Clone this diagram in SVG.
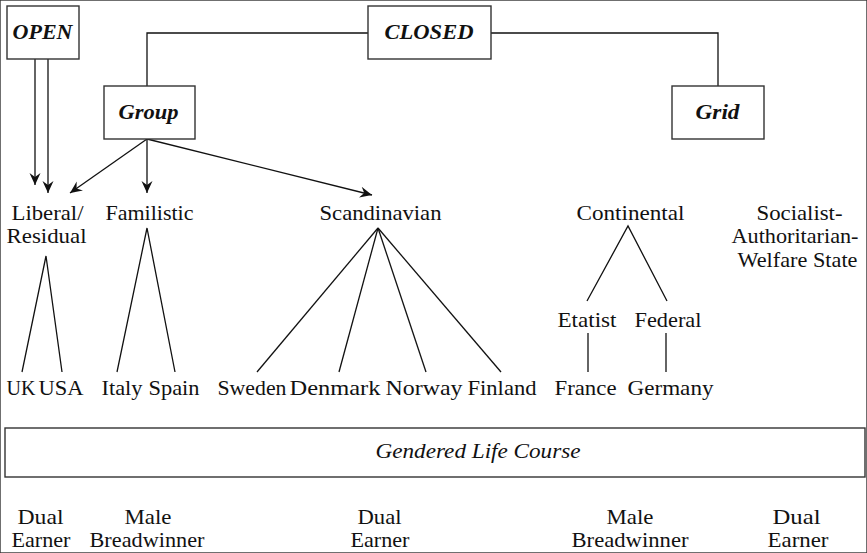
<svg xmlns="http://www.w3.org/2000/svg" width="867" height="553" viewBox="0 0 867 553" font-family="'Liberation Serif', 'DejaVu Serif', serif">
<style>
text{font-family:'Liberation Serif','DejaVu Serif',serif;font-size:22px;fill:#111;text-anchor:middle}
.b{font-style:italic;font-weight:bold}
.i{font-style:italic}
rect{fill:#fff;stroke:#333;stroke-width:1.4}
line,polyline{stroke:#111;stroke-width:1.3;fill:none}
</style>
<defs>
<marker id="ah" markerUnits="userSpaceOnUse" markerWidth="14" markerHeight="12" viewBox="-12 -6 14 12" refX="0" refY="0" orient="auto">
<path d="M0,0 L-12,-5.5 L-8,0 L-12,5.5 Z" fill="#111"/>
</marker>
</defs>
<rect width="867" height="553" fill="#fff" stroke="none"/>
<g id="connectors">
<polyline points="147,86 147,33 368,33"/>
<polyline points="491,33 718,33 718,86"/>
<line x1="35" y1="59" x2="35" y2="185" marker-end="url(#ah)"/>
<line x1="48" y1="59" x2="48" y2="193" marker-end="url(#ah)"/>
<line x1="147" y1="139" x2="70" y2="193" marker-end="url(#ah)"/>
<line x1="147" y1="139" x2="147" y2="193" marker-end="url(#ah)"/>
<line x1="147" y1="139" x2="372" y2="195" marker-end="url(#ah)"/>
<polyline points="22,372 46,256 62,372"/>
<polyline points="117,372 147,228 175,372"/>
<line x1="378" y1="228" x2="257" y2="372"/>
<line x1="378" y1="228" x2="339" y2="372"/>
<line x1="378" y1="228" x2="426" y2="372"/>
<line x1="378" y1="228" x2="501" y2="372"/>
<polyline points="587,301 628,226 667,301"/>
<line x1="588" y1="333" x2="588" y2="372"/>
<line x1="666" y1="333" x2="666" y2="372"/>
</g>
<g id="open"><rect x="7" y="6" width="72" height="53"/><text class="b" x="42.5" y="39" textLength="60" lengthAdjust="spacingAndGlyphs">OPEN</text></g>
<g id="closed"><rect x="368" y="6" width="123" height="53"/><text class="b" x="429" y="39" textLength="89" lengthAdjust="spacingAndGlyphs">CLOSED</text></g>
<g id="group"><rect x="104" y="86" width="91" height="53"/><text class="b" x="148.5" y="119" textLength="60" lengthAdjust="spacingAndGlyphs">Group</text></g>
<g id="grid"><rect x="672" y="86" width="92" height="53"/><text class="b" x="717.5" y="119" textLength="44" lengthAdjust="spacingAndGlyphs">Grid</text></g>
<g id="liberal"><text x="47.5" y="220" textLength="72" lengthAdjust="spacingAndGlyphs">Liberal/</text><text x="46.5" y="243" textLength="80" lengthAdjust="spacingAndGlyphs">Residual</text></g>
<g id="familistic"><text x="149.5" y="220" textLength="88" lengthAdjust="spacingAndGlyphs">Familistic</text></g>
<g id="scandinavian"><text x="380.5" y="220" textLength="122" lengthAdjust="spacingAndGlyphs">Scandinavian</text></g>
<g id="continental"><text x="630.5" y="220" textLength="108" lengthAdjust="spacingAndGlyphs">Continental</text></g>
<g id="socialist"><text x="799.5" y="220" textLength="86" lengthAdjust="spacingAndGlyphs">Socialist-</text><text x="795" y="243" textLength="127" lengthAdjust="spacingAndGlyphs">Authoritarian-</text><text x="797.5" y="267" textLength="120" lengthAdjust="spacingAndGlyphs">Welfare State</text></g>
<g id="etatist"><text x="587" y="327" textLength="59" lengthAdjust="spacingAndGlyphs">Etatist</text></g>
<g id="federal"><text x="668" y="327" textLength="67" lengthAdjust="spacingAndGlyphs">Federal</text></g>
<g id="uk"><text x="21" y="395" textLength="29" lengthAdjust="spacingAndGlyphs">UK</text></g>
<g id="usa"><text x="61" y="395" textLength="45" lengthAdjust="spacingAndGlyphs">USA</text></g>
<g id="italy"><text x="122" y="395" textLength="41" lengthAdjust="spacingAndGlyphs">Italy</text></g>
<g id="spain"><text x="174" y="395" textLength="51" lengthAdjust="spacingAndGlyphs">Spain</text></g>
<g id="sweden"><text x="252" y="395" textLength="69" lengthAdjust="spacingAndGlyphs">Sweden</text></g>
<g id="denmark"><text x="335" y="395" textLength="91" lengthAdjust="spacingAndGlyphs">Denmark</text></g>
<g id="norway"><text x="424" y="395" textLength="77" lengthAdjust="spacingAndGlyphs">Norway</text></g>
<g id="finland"><text x="502" y="395" textLength="69" lengthAdjust="spacingAndGlyphs">Finland</text></g>
<g id="france"><text x="585.5" y="395" textLength="62" lengthAdjust="spacingAndGlyphs">France</text></g>
<g id="germany"><text x="670.5" y="395" textLength="86" lengthAdjust="spacingAndGlyphs">Germany</text></g>
<g id="glc"><rect x="5" y="428" width="860" height="49"/><text class="i" x="478" y="458" textLength="205" lengthAdjust="spacingAndGlyphs">Gendered Life Course</text></g>
<g id="de1"><text x="40.5" y="524" textLength="46" lengthAdjust="spacingAndGlyphs">Dual</text><text x="41" y="547" textLength="59" lengthAdjust="spacingAndGlyphs">Earner</text></g>
<g id="mb1"><text x="148" y="524" textLength="47" lengthAdjust="spacingAndGlyphs">Male</text><text x="147" y="547" textLength="115" lengthAdjust="spacingAndGlyphs">Breadwinner</text></g>
<g id="de2"><text x="379.5" y="524" textLength="44" lengthAdjust="spacingAndGlyphs">Dual</text><text x="380" y="547" textLength="59" lengthAdjust="spacingAndGlyphs">Earner</text></g>
<g id="mb2"><text x="630" y="524" textLength="47" lengthAdjust="spacingAndGlyphs">Male</text><text x="630" y="547" textLength="117" lengthAdjust="spacingAndGlyphs">Breadwinner</text></g>
<g id="de3"><text x="796.5" y="524" textLength="48" lengthAdjust="spacingAndGlyphs">Dual</text><text x="798" y="547" textLength="61" lengthAdjust="spacingAndGlyphs">Earner</text></g>
</svg>
